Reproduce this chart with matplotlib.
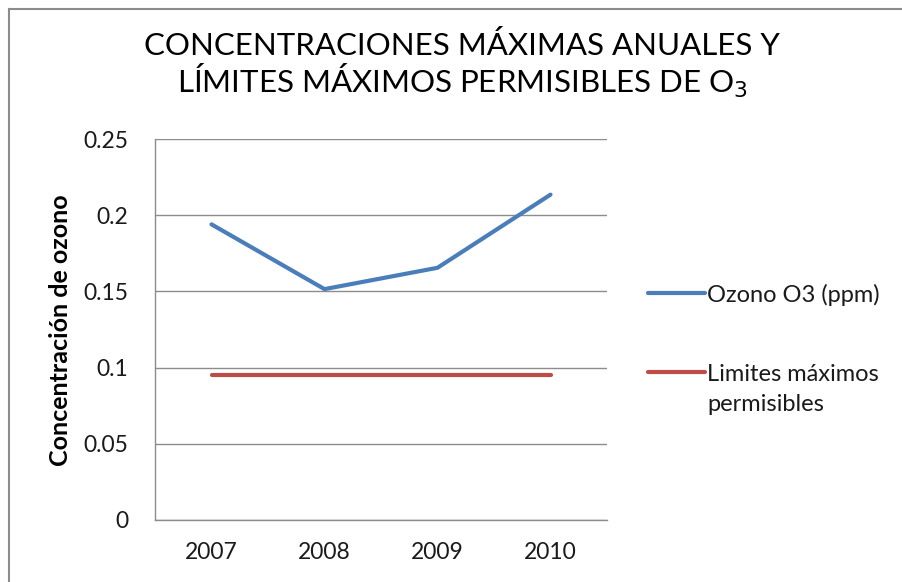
import matplotlib
matplotlib.use('Agg')
import matplotlib.pyplot as plt
from matplotlib.lines import Line2D

years = ['2007', '2008', '2009', '2010']
ozono = [0.194, 0.1515, 0.1655, 0.2135]
limite = [0.095, 0.095, 0.095, 0.095]
labels = ['Ozono O3 (ppm)', 'Limites máximos\npermisibles']
colors = ['#4A7EBB', '#BE4B48']
yticks = [0, 0.05, 0.1, 0.15, 0.2, 0.25]
ytick_labels = ['0', '0.05', '0.1', '0.15', '0.2', '0.25']

plt.rcParams['font.family'] = ['Lato', 'DejaVu Sans']

W, H = 902, 582
fig = plt.figure(figsize=(W / 100, H / 100), dpi=100)

# chart frame: only top and left edges are in view
fig.add_artist(Line2D([9 / W, 9 / W], [0, 1 - 9 / H], transform=fig.transFigure,
                      color='#8c8c8c', linewidth=1.5))
fig.add_artist(Line2D([9 / W, 1], [1 - 9 / H, 1 - 9 / H], transform=fig.transFigure,
                      color='#8c8c8c', linewidth=1.5))

ax = fig.add_axes([155 / W, (H - 520) / H, 452 / W, 381 / H])
x = list(range(len(years)))
ax.plot(x, ozono, color=colors[0], linewidth=3, solid_capstyle='round', solid_joinstyle='round', zorder=3)
ax.plot(x, limite, color=colors[1], linewidth=3, solid_capstyle='round', zorder=3)

ax.set_xlim(-0.5, len(years) - 0.5)
ax.set_ylim(0, 0.25)
ax.set_yticks(yticks)
ax.set_yticklabels(ytick_labels)
ax.set_xticks(x)
ax.set_xticklabels(years)
ax.tick_params(axis='both', labelsize=16.5, colors='#1a1a1a', length=0)
ax.tick_params(axis='x', pad=16)
ax.tick_params(axis='y', pad=19)
ax.grid(axis='y', color='#8c8c8c', linewidth=1)
ax.set_axisbelow(True)
for s in ['top', 'right']:
    ax.spines[s].set_visible(False)
for s in ['left', 'bottom']:
    ax.spines[s].set_color('#8c8c8c')
    ax.spines[s].set_linewidth(1)

fig.text(61 / W, 1 - 330 / H, 'Concentración de ozono', rotation=90, ha='center', va='center',
         fontsize=18, fontweight='bold', color='#000000')

fig.text(462 / W, 1 - 55 / H, 'CONCENTRACIONES MÁXIMAS ANUALES Y', ha='center', va='baseline',
         fontsize=22.5, color='#000000')
fig.text(462 / W, 1 - 93 / H, r'LÍMITES MÁXIMOS PERMISIBLES DE O$_{3}$', ha='center', va='baseline',
         fontsize=22.5, color='#000000')

# legend (Excel aligns the key with the first line of the label)
leg_y = [293, 372]
for lbl, c, yy in zip(labels, colors, leg_y):
    fig.add_artist(Line2D([648 / W, 705 / W], [1 - yy / H, 1 - yy / H], transform=fig.transFigure,
                          color=c, linewidth=3, solid_capstyle='round'))
    for i, part in enumerate(lbl.split('\n')):
        fig.text(707 / W, 1 - (yy + 9 + 30 * i) / H, part, ha='left', va='baseline',
                 fontsize=17, color='#1a1a1a')

fig.savefig('out.png', dpi=100)
